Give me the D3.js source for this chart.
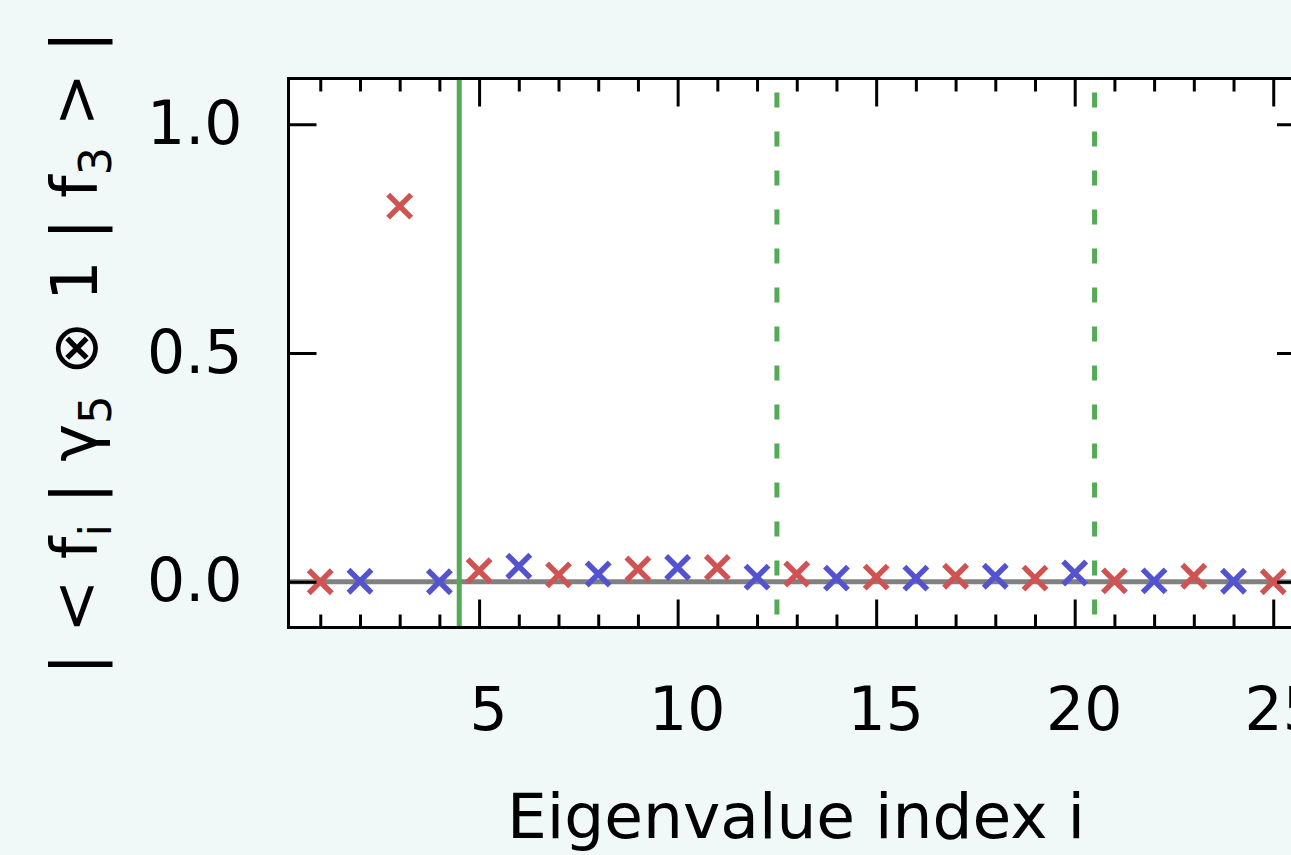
<!DOCTYPE html>
<html>
<head>
<meta charset="utf-8">
<script src="https://cdn.jsdelivr.net/npm/d3@7"></script>
<style>
  body { margin: 0; background: #f1f9f8; }
  svg { display: block; font-family: "DejaVu Sans", sans-serif; }
</style>
</head>
<body>
<svg width="1291" height="855"></svg>
<script>
// eigenvalue index, split in the two alternating series
const redIndex  = [1, 3, 5, 7, 9, 11, 13, 15, 17, 19, 21, 23, 25];
const redValue  = [0.000, 0.821, 0.024, 0.015, 0.028, 0.031, 0.017, 0.010, 0.012, 0.008, 0.002, 0.012, 0.000];
const blueIndex = [2, 4, 6, 8, 10, 12, 14, 16, 18, 20, 22, 24];
const blueValue = [0.001, 0.000, 0.034, 0.017, 0.031, 0.010, 0.008, 0.008, 0.012, 0.019, 0.002, 0.001];

// vertical markers
const solidLines  = [4.5];
const dashedLines = [12.5, 20.5];

// ticks
const xMajorTicks = [5, 10, 15, 20, 25];
const xMinorTicks = [1, 2, 3, 4, 6, 7, 8, 9, 11, 12, 13, 14, 16, 17, 18, 19, 21, 22, 23, 24];
const yTicks = [0, 0.5, 1.0];

const svg = d3.select('svg');
const margin = { top: 78.5, left: 288.5, bottom: 627.5, right: 1305 };

const x = d3.scaleLinear().domain([0.2, 25.8]).range([margin.left, margin.right]);
const y = d3.scaleLinear().domain([-0.1, 1.1]).range([margin.bottom, margin.top]);

// white plot area
svg.append('rect')
    .attr('x', margin.left).attr('y', margin.top)
    .attr('width', margin.right - margin.left)
    .attr('height', margin.bottom - margin.top)
    .attr('fill', '#ffffff');

// zero line
svg.append('line')
    .attr('x1', margin.left).attr('x2', margin.right)
    .attr('y1', y(0)).attr('y2', y(0))
    .attr('stroke', '#808080').attr('stroke-width', 5);

// green separators
svg.selectAll('.solid')
    .data(solidLines).enter().append('line')
    .attr('x1', d => x(d)).attr('x2', d => x(d))
    .attr('y1', margin.top).attr('y2', margin.bottom)
    .attr('stroke', '#55aa55').attr('stroke-width', 5);

svg.selectAll('.dashed')
    .data(dashedLines).enter().append('line')
    .attr('x1', d => x(d)).attr('x2', d => x(d))
    .attr('y1', margin.bottom).attr('y2', margin.top)
    .attr('stroke', '#55aa55').attr('stroke-width', 5)
    .attr('stroke-dasharray', '15,24')
    .attr('stroke-dashoffset', -13);

// x markers
const arm = 11.5;
function crosses(idx, val, color) {
    const pts = idx.map((d, i) => ({ i: d, v: val[i] }));
    const g = svg.append('g');
    const c = g.selectAll('g').data(pts).enter().append('g')
        .attr('transform', d => `translate(${x(d.i)},${y(d.v)})`);
    c.append('path')
        .attr('d', `M${-arm},${-arm}L${arm},${arm}M${-arm},${arm}L${arm},${-arm}`)
        .attr('stroke', color).attr('stroke-width', 5.5).attr('fill', 'none');
}
crosses(redIndex, redValue, '#d05353');
crosses(blueIndex, blueValue, '#5353cf');

// axes (ticks pointing inward)
const tickStyle = g => {
    g.attr('font-family', '"DejaVu Sans", sans-serif');
    g.select('.domain').remove();
    g.selectAll('.tick line').attr('stroke', '#000').attr('stroke-width', 3);
    g.selectAll('.tick text').attr('fill', '#000').attr('font-size', 60);
};

svg.append('g')
    .attr('transform', `translate(0,${margin.bottom})`)
    .call(d3.axisBottom(x).tickValues(xMajorTicks).tickSize(-28).tickPadding(60).tickFormat(d3.format('d')))
    .call(tickStyle)
    .call(g => g.selectAll('.tick text').attr('dx', 9));

svg.append('g')
    .attr('transform', `translate(0,${margin.bottom})`)
    .call(d3.axisBottom(x).tickValues(xMinorTicks).tickSize(-13).tickFormat(''))
    .call(tickStyle);

svg.append('g')
    .attr('transform', `translate(0,${margin.top})`)
    .call(d3.axisTop(x).tickValues(xMajorTicks).tickSize(-28).tickFormat(''))
    .call(tickStyle);

svg.append('g')
    .attr('transform', `translate(0,${margin.top})`)
    .call(d3.axisTop(x).tickValues(xMinorTicks).tickSize(-13).tickFormat(''))
    .call(tickStyle);

svg.append('g')
    .attr('transform', `translate(${margin.left},0)`)
    .call(d3.axisLeft(y).tickValues(yTicks).tickSize(-28).tickPadding(46).tickFormat(d3.format('.1f')))
    .call(tickStyle);

svg.append('g')
    .attr('transform', `translate(${margin.right},0)`)
    .call(d3.axisRight(y).tickValues(yTicks).tickSize(-28).tickFormat(''))
    .call(tickStyle);

// frame
svg.append('rect')
    .attr('x', margin.left).attr('y', margin.top)
    .attr('width', margin.right - margin.left)
    .attr('height', margin.bottom - margin.top)
    .attr('fill', 'none').attr('stroke', '#000').attr('stroke-width', 3);

// axis titles
svg.append('text')
    .attr('x', 796)
    .attr('y', 838)
    .attr('text-anchor', 'middle')
    .attr('font-size', 63)
    .text('Eigenvalue index i');

const yl = svg.append('text')
    .attr('transform', `translate(97,${(margin.top + margin.bottom) / 2}) rotate(-90)`)
    .attr('text-anchor', 'middle')
    .attr('font-size', 64);
yl.append('tspan').text('| < f');
yl.append('tspan').attr('font-size', 45).attr('dy', 14).text('i');
yl.append('tspan').attr('dy', -14).text(' | γ');
yl.append('tspan').attr('font-size', 45).attr('dy', 14).text('5');
yl.append('tspan').attr('dy', -14).text(' ⊗ 1 | f');
yl.append('tspan').attr('font-size', 45).attr('dy', 14).text('3');
yl.append('tspan').attr('dy', -14).text(' > |');
</script>
</body>
</html>
